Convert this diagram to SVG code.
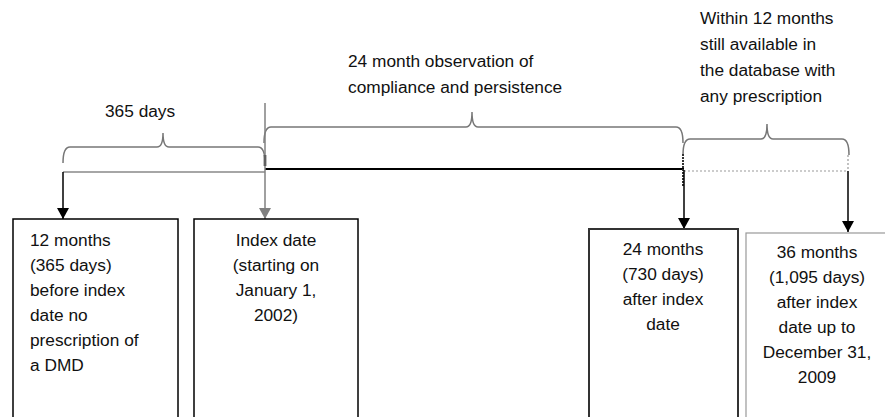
<svg xmlns="http://www.w3.org/2000/svg" width="885" height="417" viewBox="0 0 885 417">
<defs>
<style>
.t{font-family:"Liberation Sans",Arial,sans-serif;font-size:17.3px;fill:#111}
.c{text-anchor:middle}
.brace{fill:none;stroke:#777;stroke-width:1.5}
.box{fill:#fff}
</style>
<marker id="ab" markerWidth="12" markerHeight="12" refX="11" refY="6" orient="auto" markerUnits="userSpaceOnUse" viewBox="0 0 12 12"><path d="M0,0 L11,6 L0,12 Z" fill="#000"/></marker>
<marker id="ag" markerWidth="12" markerHeight="12" refX="11" refY="6" orient="auto" markerUnits="userSpaceOnUse" viewBox="0 0 12 12"><path d="M0,0 L11,6 L0,12 Z" fill="#808080"/></marker>
</defs>
<rect width="885" height="417" fill="#fff"/>
<g id="labels">
<text class="t" x="105" y="117">365 days</text>
<text class="t" x="348" y="67">24 month observation of</text>
<text class="t" x="348" y="93">compliance and persistence</text>
<text class="t" x="700" y="24">Within 12 months</text>
<text class="t" x="700" y="50">still available in</text>
<text class="t" x="700" y="76">the database with</text>
<text class="t" x="700" y="102">any prescription</text>
</g>
<g id="connectors">
<path class="brace" d="M63,163 Q63,147 70,147 L157,147 Q163,147 163,133 Q163,147 169,147 L258,147 Q265,147 265,163"/>
<path class="brace" d="M264,143 Q264,127 271,127 L466,127 Q472,127 472,112 Q472,127 478,127 L676,127 Q683,127 683,143"/>
<path class="brace" d="M683,155 Q683,139 690,139 L761,139 Q767,139 767,124 Q767,139 773,139 L842,139 Q849,139 849,155"/>
<line x1="63" y1="172" x2="265" y2="172" stroke="#888" stroke-width="1.5"/>
<line x1="265" y1="169" x2="684" y2="169" stroke="#000" stroke-width="1.8"/>
<line x1="684" y1="171" x2="848" y2="171" stroke="#999" stroke-width="1.2" stroke-dasharray="2,2"/>
<line x1="848" y1="155" x2="848" y2="171" stroke="#999" stroke-width="1.2" stroke-dasharray="2,2"/>
<line x1="265" y1="155" x2="265" y2="166" stroke="#000" stroke-width="2.5"/>
<line x1="683" y1="154" x2="683" y2="186" stroke="#333" stroke-width="2" stroke-dasharray="2,1"/>
<line x1="63" y1="172" x2="63" y2="219" stroke="#000" stroke-width="1.5" marker-end="url(#ab)"/>
<line x1="265" y1="103" x2="265" y2="219" stroke="#808080" stroke-width="1.5" marker-end="url(#ag)"/>
<line x1="684" y1="170" x2="684" y2="229" stroke="#000" stroke-width="1.5" marker-end="url(#ab)"/>
<line x1="848" y1="171" x2="848" y2="232" stroke="#000" stroke-width="1.5" marker-end="url(#ab)"/>
</g>
<g id="node1">
<rect class="box" x="13" y="219" width="165" height="220" stroke="#000" stroke-width="1.5"/>
<text class="t" x="30" y="246">12 months</text>
<text class="t" x="30" y="271">(365 days)</text>
<text class="t" x="30" y="296">before index</text>
<text class="t" x="30" y="321">date no</text>
<text class="t" x="30" y="346">prescription of</text>
<text class="t" x="30" y="371">a DMD</text>
</g>
<g id="node2">
<rect class="box" x="194" y="219" width="164" height="220" stroke="#000" stroke-width="1.5"/>
<text class="t c" x="276" y="246">Index date</text>
<text class="t c" x="276" y="271">(starting on</text>
<text class="t c" x="276" y="296">January 1,</text>
<text class="t c" x="276" y="321">2002)</text>
</g>
<g id="node3">
<rect class="box" x="589" y="229" width="149" height="210" stroke="#333" stroke-width="2"/>
<text class="t c" x="663" y="255">24 months</text>
<text class="t c" x="663" y="280">(730 days)</text>
<text class="t c" x="663" y="305">after index</text>
<text class="t c" x="663" y="330">date</text>
</g>
<g id="node4">
<rect class="box" x="746" y="233" width="160" height="210" stroke="#999" stroke-width="1.2"/>
<text class="t c" x="817" y="258">36 months</text>
<text class="t c" x="817" y="283">(1,095 days)</text>
<text class="t c" x="817" y="308">after index</text>
<text class="t c" x="817" y="333">date up to</text>
<text class="t c" x="817" y="358">December 31,</text>
<text class="t c" x="817" y="383">2009</text>
</g>
</svg>
